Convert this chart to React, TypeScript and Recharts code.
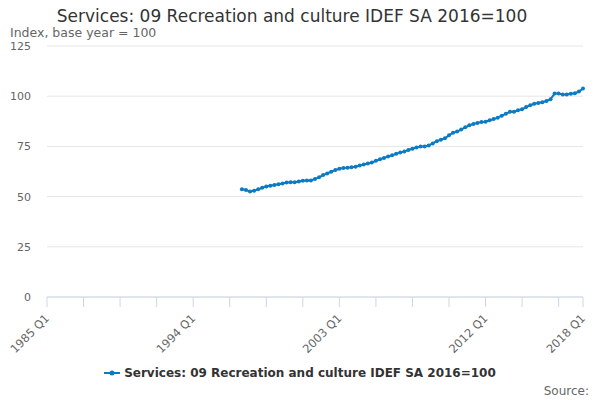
import React from 'react';
import { LineChart, Line, XAxis, YAxis, CartesianGrid, Legend } from 'recharts';

const seriesName = 'Services: 09 Recreation and culture IDEF SA 2016=100';

// every quarter from 1985 Q1 to 2018 Q1
const quarters: string[] = [];
for (let y = 1985; y <= 2018; y++) {
    for (let q = 1; q <= 4; q++) {
        if (y === 2018 && q > 1) break;
        quarters.push(`${y} Q${q}`);
    }
}

const seriesStart = '1997 Q1';

// quarterly index values, 1997 Q1 .. 2018 Q1
const indexValues = [
    53.7, 53.3, 52.5, 52.9,
    53.6, 54.4, 55.0, 55.4,
    55.8, 56.2, 56.5, 57.0,
    57.1, 57.2, 57.5, 57.9,
    58.0, 58.0, 58.8, 59.6,
    60.7, 61.5, 62.4, 63.2,
    63.9, 64.2, 64.4, 64.6,
    64.9, 65.5, 66.0, 66.5,
    67.0, 67.8, 68.6, 69.2,
    70.0, 70.6, 71.3, 71.9,
    72.5, 73.2, 73.8, 74.5,
    75.0, 74.9, 75.5, 76.5,
    77.6, 78.3, 79.0, 80.5,
    81.8, 82.4, 83.4, 84.5,
    85.5, 86.2, 86.7, 87.1,
    87.3, 88.0, 88.6, 89.3,
    90.3, 91.2, 92.2, 92.3,
    93.0, 93.5, 94.6, 95.5,
    96.2, 96.6, 97.0, 97.6,
    98.5, 101.3, 101.3, 100.9,
    100.8, 101.2, 101.5, 102.3,
    103.8,
];

const yTicks = [0, 25, 50, 75, 100, 125];
const labelledTicks = ['1985 Q1', '1994 Q1', '2003 Q1', '2012 Q1', '2018 Q1'];
const tickMarks = quarters.filter((_, i) => i % 9 === 0 || i === quarters.length - 1);

const startIdx = quarters.indexOf(seriesStart);
const data = quarters.map((q, i) => ({
    q,
    value: i >= startIdx ? indexValues[i - startIdx] : null,
}));

const font = '"DejaVu Sans", sans-serif';
const lineColor = '#0b7bc3';

const XTick = (props: any) => {
    const { x, y, payload } = props;
    if (!labelledTicks.includes(payload.value)) return null;
    const ax = x + 3;
    const ay = y + 10;
    return (
        <text
            x={ax}
            y={ay}
            transform={`rotate(-45 ${ax} ${ay})`}
            textAnchor="end"
            fill="#666"
            fontSize={11.5}
            fontFamily={font}
        >
            {payload.value}
        </text>
    );
};

const LegendContent = () => (
    <div style={{ display: 'flex', justifyContent: 'center', alignItems: 'center', fontFamily: font, paddingLeft: 16 }}>
        <svg width={18} height={10} style={{ marginRight: 3 }}>
            <line x1={1} y1={5} x2={17} y2={5} stroke={lineColor} strokeWidth={2} />
            <circle cx={9} cy={5} r={2.5} fill={lineColor} />
        </svg>
        <span style={{ fontSize: 12, fontWeight: 'bold', color: '#333' }}>{seriesName}</span>
    </div>
);

const App = () => {
    return (
        <div style={{ position: 'absolute', left: 0, top: 0, width: 600, height: 400, fontFamily: font }}>
            <div style={{ position: 'absolute', top: 6, left: 0, width: 584, textAlign: 'center', fontSize: 17, color: '#333' }}>
                {seriesName}
            </div>
            <div style={{ position: 'absolute', top: 25, left: 10, fontSize: 12.5, color: '#666' }}>
                Index, base year = 100
            </div>
            <LineChart
                width={600}
                height={400}
                data={data}
                margin={{ top: 46, right: 17, left: 0, bottom: 4 }}
            >
                <CartesianGrid vertical={false} stroke="#e6e6e6" />
                <XAxis
                    dataKey="q"
                    ticks={tickMarks}
                    interval={0}
                    tick={<XTick />}
                    axisLine={{ stroke: '#ccd6eb' }}
                    tickLine={{ stroke: '#ccd6eb' }}
                    tickSize={10}
                    height={69}
                />
                <YAxis
                    domain={[0, 125]}
                    ticks={yTicks}
                    axisLine={false}
                    tickLine={false}
                    tickSize={0}
                    tickMargin={16}
                    width={47}
                    tick={{ fill: '#666', fontSize: 11, fontFamily: font }}
                />
                <Legend verticalAlign="bottom" height={30} content={<LegendContent />} />
                <Line
                    type="linear"
                    dataKey="value"
                    name={seriesName}
                    stroke={lineColor}
                    strokeWidth={2}
                    dot={{ r: 2, fill: lineColor, stroke: lineColor, strokeWidth: 0 }}
                    activeDot={false}
                    connectNulls={false}
                    isAnimationActive={false}
                />
            </LineChart>
            <div style={{ position: 'absolute', top: 384, right: 11, fontSize: 12, color: '#666' }}>
                Source:
            </div>
        </div>
    );
};

export default App;
